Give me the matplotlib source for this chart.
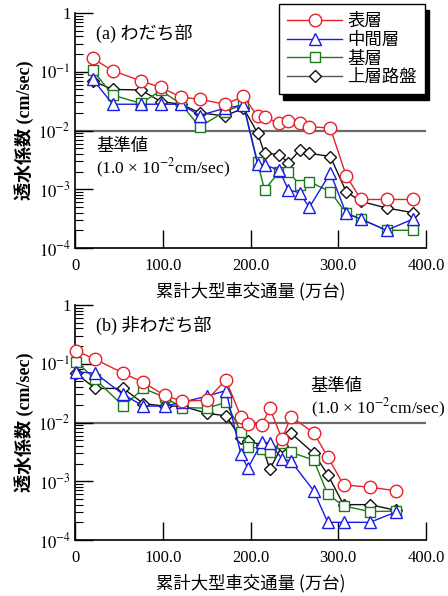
import matplotlib
matplotlib.use("Agg")
import matplotlib.pyplot as plt
from matplotlib.ticker import FixedLocator, FixedFormatter, LogLocator, NullFormatter, FuncFormatter
from matplotlib.lines import Line2D

plt.rcParams['font.family'] = ['Liberation Serif', 'Noto Sans CJK JP']
plt.rcParams['mathtext.fontset'] = 'stix'

# ---------------- data ----------------
series_names = ["表層", "中間層", "基層", "上層路盤"]

x_a = [20, 43, 75, 98, 121, 142, 171, 192, 208, 216, 233, 243, 256, 267, 291, 309, 326, 355, 385]
red_a = [0.17, 0.104, 0.07, 0.054, 0.037, 0.034, 0.028, 0.038, 0.0175, 0.0168, 0.0133, 0.0143,
         0.0136, 0.0116, 0.011, 0.0017, 0.00067, 0.00067, 0.00067]
blue_a = [0.075, 0.028, 0.028, 0.028, 0.028, 0.018, 0.024, 0.027, 0.0027, 0.0026, 0.0021, 0.00098,
          0.00087, 0.00049, 0.0019, 0.00039, 0.00031, 0.0002, 0.00031]
green_a = [0.107, 0.040, 0.029, 0.048, 0.028, 0.0116, 0.021, 0.028, 0.0029, 0.00098, 0.0020, 0.0020,
           0.0012, 0.00134, 0.00091, 0.00039, 0.00031, 0.0002, 0.0002]
black_a = [0.07, 0.05, 0.049, 0.031, 0.028, 0.020, 0.0177, 0.024, 0.0091, 0.0041, 0.0039, 0.0028,
           0.0046, 0.0041, 0.0036, 0.00091, 0.00062, 0.00048, 0.0004]

x_b = [1, 23, 55, 78, 102, 122, 150, 172, 189, 197, 213, 222, 236, 246, 272, 288, 306, 336, 366]
red_b = [0.167, 0.119, 0.069, 0.048, 0.029, 0.023, 0.024, 0.053, 0.0126, 0.0095, 0.0091, 0.0175,
         0.0052, 0.0126, 0.0067, 0.0026, 0.00087, 0.00079, 0.00069]
blue_b = [0.073, 0.069, 0.030, 0.019, 0.019, 0.022, 0.028, 0.035, 0.0029, 0.00167, 0.0046, 0.0045,
          0.0024, 0.0022, 0.00069, 0.0002, 0.0002, 0.0002, 0.0003]
green_b = [0.109, 0.055, 0.019, 0.038, 0.027, 0.018, 0.0175, 0.022, 0.0070, 0.0039, 0.0036, 0.0031,
           0.0045, 0.0031, 0.0023, 0.0006, 0.00038, 0.000305, 0.00031]
black_b = [0.069, 0.038, 0.038, 0.021, 0.019, 0.019, 0.0144, 0.013, 0.0054, 0.0048, 0.0042, 0.0016,
           0.004, 0.0066, 0.0030, 0.0013, 0.0004, 0.0004, 0.00032]

standard_value = 1e-2
x_ticks = [0, 100, 200, 300, 400]
y_ticks = [1e-4, 1e-3, 1e-2, 1e-1, 1]
y_tick_labels = ["$10^{-4}$", "$10^{-3}$", "$10^{-2}$", "$10^{-1}$", "1"]

# ---------------- figure ----------------
W, H = 448, 596
fig = plt.figure(figsize=(W / 100, H / 100), dpi=100)

def fx(px):
    return px / W

def fy(py):
    return 1 - py / H

styles = [
    dict(color='#e8202a', marker='o', ms=9.0),
    dict(color='#1a1ae6', marker='^', ms=8.0),
    dict(color='#1b7a1b', marker='s', ms=7.5),
    dict(color='#111111', marker='D', ms=6.0),
]

def make_axes(top_px, bottom_px, xs, data):
    ax = fig.add_axes([fx(75), fy(bottom_px), fx(426) - fx(75), fy(top_px) - fy(bottom_px)])
    ax.axhline(standard_value, color='#6a6a6a', lw=1.6, zorder=1)
    order = [3, 2, 1, 0]
    for k, i in enumerate(order):
        st = styles[i]
        ax.plot(xs, data[i], color=st['color'], marker=st['marker'], ms=st['ms'],
                mfc='white', mec=st['color'], mew=1.0, lw=1.0, zorder=2 + k,
                clip_on=False)
    ax.set_yscale('log')
    ax.set_xlim(0, 400)
    ax.set_ylim(1e-4, 1)
    ax.spines['top'].set_visible(False)
    ax.spines['right'].set_visible(False)
    for s in ['left', 'bottom']:
        ax.spines[s].set_linewidth(1.2)
    ax.xaxis.set_major_locator(FixedLocator(x_ticks))
    ax.xaxis.set_major_formatter(FuncFormatter(lambda v, p: "0" if v == 0 else f"{v:.1f}"))
    ax.yaxis.set_major_locator(FixedLocator(y_ticks))
    ax.yaxis.set_major_formatter(FixedFormatter(y_tick_labels))
    ax.yaxis.set_minor_locator(LogLocator(base=10, subs=[2, 3, 4, 5, 6, 7, 8, 9]))
    ax.yaxis.set_minor_formatter(NullFormatter())
    ax.tick_params(axis='both', which='major', direction='in', length=13, width=1.0,
                   labelsize=12)
    ax.tick_params(axis='x', which='major', pad=7)
    ax.tick_params(axis='y', which='minor', direction='in', length=6, width=0.8)
    ax.tick_params(axis='y', which='major', pad=3)
    ax.set_xlabel("累計大型車交通量 (万台)", family=['Noto Sans CJK JP'], fontsize=12.5, labelpad=6)
    ax.set_ylabel("透水係数 (cm/sec)", family=['Liberation Serif', 'Noto Sans CJK JP'],
                  fontsize=13, fontweight='bold', labelpad=3)
    return ax

ax1 = make_axes(13, 248, x_a, [red_a, blue_a, green_a, black_a])
ax2 = make_axes(305, 540, x_b, [red_b, blue_b, green_b, black_b])

cjk = ['Liberation Serif', 'Noto Sans CJK JP']
fig.text(fx(96), fy(33), "(a) わだち部", family=cjk, fontsize=13, va='center', ha='left')
fig.text(fx(96), fy(325), "(b) 非わだち部", family=cjk, fontsize=13, va='center', ha='left')

fig.text(fx(96), fy(147), "基準値", family=cjk, fontsize=12.5, va='center', ha='left')
fig.text(fx(96), fy(168), "(1.0 × 10$^{-2}$cm/sec)", family=cjk, fontsize=12.5, va='center', ha='left')
fig.text(fx(310), fy(387), "基準値", family=cjk, fontsize=12.5, va='center', ha='left')
fig.text(fx(311), fy(408), "(1.0 × 10$^{-2}$cm/sec)", family=cjk, fontsize=12.5, va='center', ha='left')

handles = []
for name, st in zip(series_names, styles):
    lc = '#555555' if st['color'] == '#111111' else st['color']
    handles.append(Line2D([0], [0], color=lc, marker=st['marker'], ms=st['ms'], mfc='white',
                          mec=st['color'], mew=1.0, lw=1.0))
leg = fig.legend(handles, series_names, loc='upper left', bbox_to_anchor=(fx(279), fy(4)),
                 prop={'family': 'Noto Sans CJK JP', 'size': 12.5}, frameon=True, fancybox=False,
                 shadow={'color': 'black', 'alpha': 1.0, 'ox': 3, 'oy': -4}, handlelength=3.2,
                 labelspacing=0.05, borderpad=0.45, handletextpad=0.3, borderaxespad=0)
leg.get_frame().set_edgecolor('black')
leg.get_frame().set_linewidth(1.0)

fig.savefig("out.png", dpi=100)
